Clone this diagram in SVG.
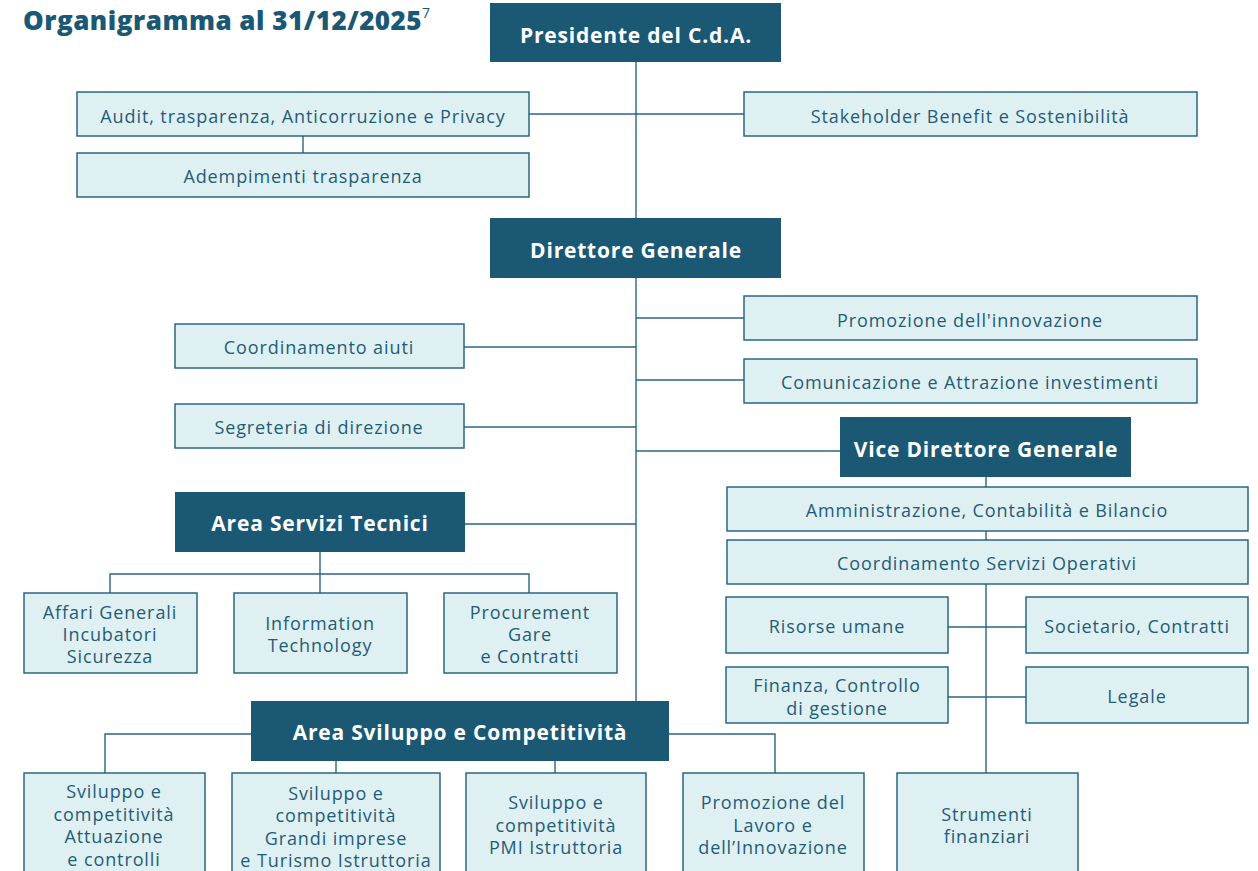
<svg xmlns="http://www.w3.org/2000/svg" width="1258" height="871" viewBox="0 0 1258 871">
<style>
.bg{fill:#ffffff}
.dk{fill:#1a5874}
.lt{fill:#dff0f3;stroke:#1f5c78;stroke-width:1.4}
.dt{font-family:"Open Sans","Liberation Sans",sans-serif;font-weight:700;font-size:21px;letter-spacing:0.8px;fill:#ffffff;text-anchor:middle}
.tx{font-family:"Open Sans","Liberation Sans",sans-serif;font-size:18px;letter-spacing:0.9px;fill:#1f5c78;text-anchor:middle}
.ln{stroke:#2a6585;stroke-width:1.4;fill:none}
.title{font-family:"Open Sans","Liberation Sans",sans-serif;font-weight:800;font-size:26px;letter-spacing:0.5px;fill:#1a5874}
</style>
<rect class="bg" x="0" y="0" width="1258" height="871"/>
<text class="title" x="23" y="30">Organigramma al 31/12/2025<tspan font-size="14" font-weight="400" letter-spacing="0" dy="-12">7</tspan></text>

<g id="connectors">
<path class="ln" d="M636 62V701"/>
<path class="ln" d="M529 114H744"/>
<path class="ln" d="M303 136V153"/>
<path class="ln" d="M636 318H744"/>
<path class="ln" d="M464 347H636"/>
<path class="ln" d="M636 380H744"/>
<path class="ln" d="M464 427H636"/>
<path class="ln" d="M636 451H840"/>
<path class="ln" d="M465 524H636"/>
<path class="ln" d="M320 552V574M110 593V574H529V593M320 574V593"/>
<path class="ln" d="M986 477V773"/>
<path class="ln" d="M948 627H1026"/>
<path class="ln" d="M948 697H1026"/>
<path class="ln" d="M251 734H105V773"/>
<path class="ln" d="M669 734H775V773"/>
<path class="ln" d="M336 761V773M555 761V773"/>
</g>

<g id="presidente"><rect class="dk" x="490" y="3" width="291" height="59"/><text class="dt" x="636" y="43">Presidente del C.d.A.</text></g>
<g id="audit"><rect class="lt" x="77" y="92" width="452" height="44"/><text class="tx" x="303" y="123">Audit, trasparenza, Anticorruzione e Privacy</text></g>
<g id="stakeholder"><rect class="lt" x="744" y="92" width="453" height="44"/><text class="tx" x="970" y="123">Stakeholder Benefit e Sostenibilità</text></g>
<g id="adempimenti"><rect class="lt" x="77" y="153" width="452" height="44"/><text class="tx" x="303" y="183">Adempimenti trasparenza</text></g>
<g id="direttore"><rect class="dk" x="490" y="218" width="291" height="60"/><text class="dt" x="636" y="258">Direttore Generale</text></g>
<g id="promozione-innovazione"><rect class="lt" x="744" y="296" width="453" height="44"/><text class="tx" x="970" y="327">Promozione dell'innovazione</text></g>
<g id="coordinamento-aiuti"><rect class="lt" x="175" y="324" width="289" height="44"/><text class="tx" x="319" y="354">Coordinamento aiuti</text></g>
<g id="comunicazione"><rect class="lt" x="744" y="359" width="453" height="44"/><text class="tx" x="970" y="389">Comunicazione e Attrazione investimenti</text></g>
<g id="segreteria"><rect class="lt" x="175" y="404" width="289" height="44"/><text class="tx" x="319" y="434">Segreteria di direzione</text></g>
<g id="vice-direttore"><rect class="dk" x="840" y="417" width="291" height="60"/><text class="dt" x="986" y="457">Vice Direttore Generale</text></g>
<g id="amministrazione"><rect class="lt" x="727" y="487" width="521" height="44"/><text class="tx" x="987" y="517">Amministrazione, Contabilità e Bilancio</text></g>
<g id="coord-servizi"><rect class="lt" x="727" y="540" width="521" height="44"/><text class="tx" x="987" y="570">Coordinamento Servizi Operativi</text></g>
<g id="risorse-umane"><rect class="lt" x="726" y="597" width="222" height="56"/><text class="tx" x="837" y="633">Risorse umane</text></g>
<g id="societario"><rect class="lt" x="1026" y="597" width="222" height="56"/><text class="tx" x="1137" y="633">Societario, Contratti</text></g>
<g id="finanza"><rect class="lt" x="726" y="667" width="222" height="56"/><text class="tx" x="837" y="692">Finanza, Controllo</text><text class="tx" x="837" y="715">di gestione</text></g>
<g id="legale"><rect class="lt" x="1026" y="667" width="222" height="56"/><text class="tx" x="1137" y="703">Legale</text></g>
<g id="area-servizi-tecnici"><rect class="dk" x="175" y="492" width="290" height="60"/><text class="dt" x="320" y="531">Area Servizi Tecnici</text></g>
<g id="affari-generali"><rect class="lt" x="24" y="593" width="173" height="80"/><text class="tx" x="110" y="619">Affari Generali</text><text class="tx" x="110" y="641">Incubatori</text><text class="tx" x="110" y="663">Sicurezza</text></g>
<g id="information-technology"><rect class="lt" x="234" y="593" width="173" height="80"/><text class="tx" x="320" y="630">Information</text><text class="tx" x="320" y="652">Technology</text></g>
<g id="procurement"><rect class="lt" x="444" y="593" width="173" height="80"/><text class="tx" x="530" y="619">Procurement</text><text class="tx" x="530" y="641">Gare</text><text class="tx" x="530" y="663">e Contratti</text></g>
<g id="area-sviluppo"><rect class="dk" x="251" y="701" width="418" height="60"/><text class="dt" x="460" y="740">Area Sviluppo e Competitività</text></g>
<g id="sviluppo-attuazione"><rect class="lt" x="24" y="773" width="181" height="110"/><text class="tx" x="114" y="798">Sviluppo e</text><text class="tx" x="114" y="821">competitività</text><text class="tx" x="114" y="843">Attuazione</text><text class="tx" x="114" y="866">e controlli</text></g>
<g id="sviluppo-grandi"><rect class="lt" x="232" y="773" width="208" height="110"/><text class="tx" x="336" y="800">Sviluppo e</text><text class="tx" x="336" y="822">competitività</text><text class="tx" x="336" y="845">Grandi imprese</text><text class="tx" x="336" y="867">e Turismo Istruttoria</text></g>
<g id="sviluppo-pmi"><rect class="lt" x="466" y="773" width="180" height="110"/><text class="tx" x="556" y="809">Sviluppo e</text><text class="tx" x="556" y="832">competitività</text><text class="tx" x="556" y="854">PMI Istruttoria</text></g>
<g id="promozione-lavoro"><rect class="lt" x="683" y="773" width="181" height="110"/><text class="tx" x="773" y="809">Promozione del</text><text class="tx" x="773" y="832">Lavoro e</text><text class="tx" x="773" y="854">dell’Innovazione</text></g>
<g id="strumenti-finanziari"><rect class="lt" x="897" y="773" width="181" height="110"/><text class="tx" x="987" y="821">Strumenti</text><text class="tx" x="987" y="843">finanziari</text></g>
</svg>
